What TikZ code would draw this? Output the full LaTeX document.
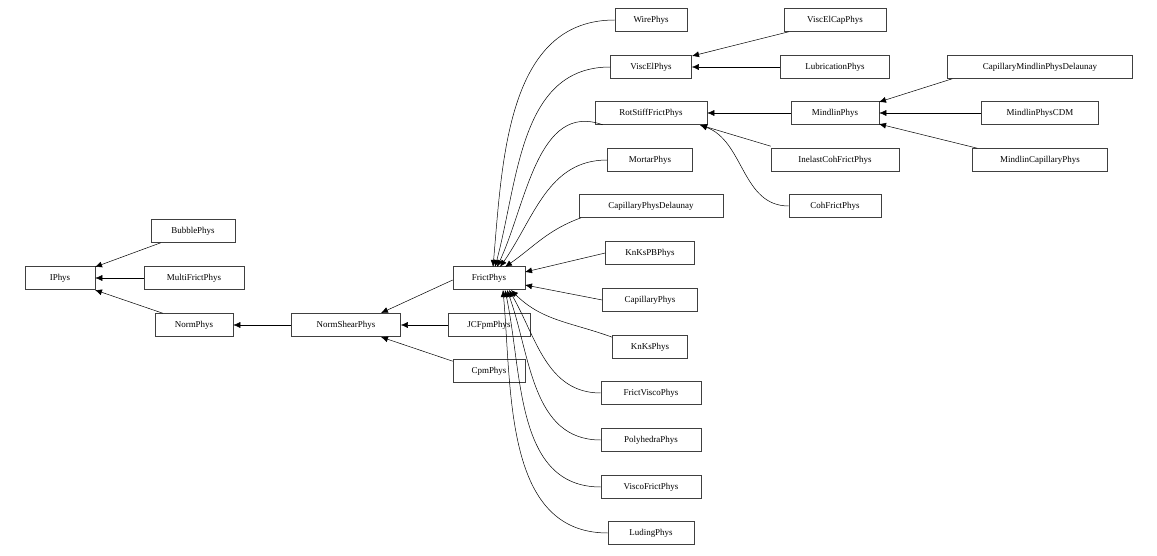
\documentclass[tikz,border=0pt]{standalone}
\usepackage{fontspec}
\setmainfont{Liberation Serif}
\usetikzlibrary{arrows.meta}
\begin{document}
\begin{tikzpicture}[x=1bp,y=-1bp,
  box/.style={draw=black!75,line width=0.6bp,minimum height=23bp,inner xsep=0pt,font=\fontsize{9}{10}\selectfont,fill=white},
  inh/.style={-{Latex[length=7bp,width=6bp]},line width=0.5bp}]
\useasboundingbox (0,0) rectangle (1157,556);
\def\B(#1,#2,#3,#4,#5){\node[box,minimum width=#4bp] (#1) at (#2,#3) {#5};}
\B(IPhys,60,278,70,IPhys)
\B(Bubble,193,231,84,BubblePhys)
\B(Multi,194,278,100,MultiFrictPhys)
\B(Norm,194,325,78,NormPhys)
\B(NormShear,346,325,109,NormShearPhys)
\B(JCF,489,325,82,JCFpmPhys)
\B(Cpm,489,371,72,CpmPhys)
\B(Frict,489,278,72,FrictPhys)
\B(Wire,651,20,72,WirePhys)
\B(ViscEl,651,67,81,ViscElPhys)
\B(Rot,651,113,112,RotStiffFrictPhys)
\B(Mortar,650,160,85,MortarPhys)
\B(CapD,651,206,144,CapillaryPhysDelaunay)
\B(KnKsPB,650,253,89,KnKsPBPhys)
\B(Cap,650,300,95,CapillaryPhys)
\B(KnKs,650,347,75,KnKsPhys)
\B(FV,651,393,100,FrictViscoPhys)
\B(Poly,651,440,100,PolyhedraPhys)
\B(VF,651,487,100,ViscoFrictPhys)
\B(Lud,651,533,86,LudingPhys)
\B(VEC,835,20,102,ViscElCapPhys)
\B(Lub,835,67,109,LubricationPhys)
\B(Mind,835,113,88,MindlinPhys)
\B(Inel,835,160,128,InelastCohFrictPhys)
\B(Coh,835,206,92,CohFrictPhys)
\B(CMD,1040,67,185,CapillaryMindlinPhysDelaunay)
\B(MCDM,1040,113,117,MindlinPhysCDM)
\B(MCap,1040,160,135,MindlinCapillaryPhys)
\draw[inh] (Bubble.south west) ++(10,0) -- (95,267);
\draw[inh] (Multi) -- (IPhys);
\draw[inh] (Norm.north west) ++(8,0) -- (95,290);
\draw[inh] (NormShear) -- (Norm);
\draw[inh] (JCF) -- (NormShear);
\draw[inh] (Cpm.north west) ++(0,2) -- (381,337);
\draw[inh] (Frict.west) ++(0,2) -- (381,313);
\draw[inh] (Wire.west) to[out=180,in=85] (493,267);
\draw[inh] (ViscEl.west) to[out=180,in=75] (495,267);
\draw[inh] (Rot.south west) ++(8,0) to[out=160,in=65] (497,267);
\draw[inh] (Mortar.west) to[out=180,in=55] (500,267);
\draw[inh] (CapD.south) ++(-70,0) to[out=200,in=35] (505,267);
\draw[inh] (KnKsPB.west) -- (525,272);
\draw[inh] (Cap.west) -- (525,285);
\draw[inh] (KnKs.north west) ++(0,2) to[out=160,in=-45] (511,290);
\draw[inh] (FV.west) to[out=180,in=-60] (509,290);
\draw[inh] (Poly.west) to[out=180,in=-70] (507,290);
\draw[inh] (VF.west) to[out=180,in=-78] (505,290);
\draw[inh] (Lud.west) to[out=180,in=-85] (503,290);
\draw[inh] (VEC.south west) ++(5,0) -- (692,56);
\draw[inh] (Lub) -- (ViscEl);
\draw[inh] (Mind) -- (Rot);
\draw[inh] (Inel.north west) ++(0,-2) -- (700,125);
\draw[inh] (Coh.west) to[out=180,in=-20] (700,125);
\draw[inh] (CMD.south west) ++(5,0) -- (879,102);
\draw[inh] (MCDM) -- (Mind);
\draw[inh] (MCap.north west) ++(5,0) -- (879,124);
\end{tikzpicture}
\end{document}
